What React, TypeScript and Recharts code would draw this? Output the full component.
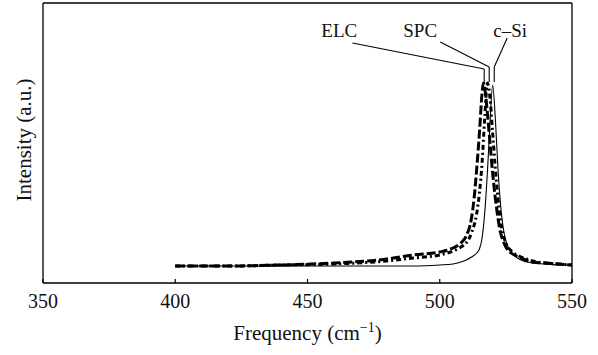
import React from "react";
import { LineChart, Line, XAxis, YAxis, ReferenceLine, ReferenceDot, Label } from "recharts";

// Raman spectra, intensity in arbitrary units
const xTicks = [350, 400, 450, 500, 550];

const cSi = [
  { f: 400, v: 17 }, { f: 420, v: 17 }, { f: 440, v: 17 }, { f: 460, v: 17 },
  { f: 480, v: 17 }, { f: 490, v: 17 }, { f: 500, v: 18 }, { f: 505, v: 19 },
  { f: 508, v: 21 }, { f: 510, v: 23 }, { f: 512, v: 26 }, { f: 514, v: 30 },
  { f: 515, v: 34 }, { f: 516, v: 45 }, { f: 517, v: 70 }, { f: 518, v: 110 },
  { f: 519, v: 160 }, { f: 520, v: 198 }, { f: 521, v: 165 }, { f: 522, v: 115 },
  { f: 523, v: 78 }, { f: 524, v: 55 }, { f: 525, v: 42 }, { f: 526, v: 35 },
  { f: 528, v: 28 }, { f: 530, v: 24 }, { f: 535, v: 20 }, { f: 540, v: 19 },
  { f: 545, v: 18 }, { f: 550, v: 18 },
];

const spc = [
  { f: 400, v: 17 }, { f: 420, v: 17 }, { f: 440, v: 18 }, { f: 460, v: 19 },
  { f: 480, v: 22 }, { f: 490, v: 25 }, { f: 500, v: 28 }, { f: 505, v: 32 },
  { f: 508, v: 36 }, { f: 510, v: 40 }, { f: 512, v: 50 }, { f: 514, v: 70 },
  { f: 515, v: 90 }, { f: 516, v: 120 }, { f: 517, v: 165 }, { f: 518, v: 200 },
  { f: 519, v: 185 }, { f: 520, v: 150 }, { f: 521, v: 115 }, { f: 522, v: 85 },
  { f: 523, v: 62 }, { f: 524, v: 48 }, { f: 525, v: 40 }, { f: 527, v: 32 },
  { f: 530, v: 27 }, { f: 535, v: 22 }, { f: 540, v: 20 }, { f: 545, v: 19 },
  { f: 550, v: 18 },
];

const elc = [
  { f: 400, v: 17 }, { f: 420, v: 17 }, { f: 440, v: 18 }, { f: 460, v: 20 },
  { f: 480, v: 24 }, { f: 490, v: 28 }, { f: 500, v: 31 }, { f: 505, v: 35 },
  { f: 508, v: 40 }, { f: 510, v: 47 }, { f: 512, v: 65 }, { f: 513, v: 85 },
  { f: 514, v: 115 }, { f: 515, v: 150 }, { f: 516, v: 190 }, { f: 516.5, v: 200 },
  { f: 517, v: 195 }, { f: 518, v: 170 }, { f: 519, v: 140 }, { f: 520, v: 110 },
  { f: 521, v: 85 }, { f: 522, v: 65 }, { f: 523, v: 50 }, { f: 524, v: 42 },
  { f: 525, v: 36 }, { f: 527, v: 30 }, { f: 530, v: 26 }, { f: 535, v: 21 },
  { f: 540, v: 20 }, { f: 545, v: 19 }, { f: 550, v: 18 },
];

// leader lines from the labels down to the peaks
const labels = [
  { name: "ELC", f: 462, v: 253, path: [[467, 240], [516.8, 214], [516.8, 201]] },
  { name: "SPC", f: 492.6, v: 253, path: [[500.2, 241], [518.7, 216], [518.7, 201]] },
  { name: "c–Si", f: 526.6, v: 253, path: [[525.5, 245], [520.6, 216], [520.6, 201]] },
];

const FONT = "'Liberation Serif', 'DejaVu Serif', serif";

const Tick = (props: any) => {
  const { x, y, payload } = props;
  return (
    <g>
      <line x1={x} x2={x} y1={y} y2={y - 4} stroke="#000" strokeWidth={1.2} />
      <text x={x} y={y + 25} textAnchor="middle" fontSize={20} fontFamily={FONT} fill="#111">
        {payload.value}
      </text>
    </g>
  );
};

const XTitle = (props: any) => {
  const vb = props.viewBox;
  return (
    <text x={vb.x + vb.width / 2} y={340} textAnchor="middle" fontSize={21} fontFamily={FONT} fill="#111">
      Frequency (cm<tspan dy={-8} fontSize={14}>−1</tspan><tspan dy={8}>)</tspan>
    </text>
  );
};

const YTitle = () => (
  <text x={31} y={140} transform="rotate(-90 31 140)" textAnchor="middle" fontSize={21} fontFamily={FONT} fill="#111">
    Intensity (a.u.)
  </text>
);

export default function App() {
  return (
    <div style={{ position: "absolute", left: 0, top: 0, background: "#fff" }}>
      <LineChart width={598} height={355} margin={{ top: 3, right: 26, left: 0, bottom: 0 }}>
        <XAxis
          dataKey="f"
          type="number"
          domain={[350, 550]}
          ticks={xTicks}
          height={72}
          tickSize={0}
          tickMargin={0}
          tickLine={false}
          tick={<Tick />}
          axisLine={{ stroke: "#000", strokeWidth: 1.3 }}
          allowDataOverflow
        >
          <Label content={<XTitle />} />
        </XAxis>
        <YAxis
          dataKey="v"
          type="number"
          domain={[0, 280]}
          width={43}
          tick={false}
          tickLine={false}
          axisLine={{ stroke: "#000", strokeWidth: 1.3 }}
          allowDataOverflow
        >
          <Label content={<YTitle />} />
        </YAxis>
        <ReferenceLine y={280} stroke="#000" strokeWidth={1.3} />
        <ReferenceLine x={550} stroke="#000" strokeWidth={1.3} />

        <Line data={cSi} dataKey="v" type="monotone" stroke="#000" strokeWidth={1.1} dot={false} isAnimationActive={false} />
        <Line data={spc} dataKey="v" type="monotone" stroke="#000" strokeWidth={3} strokeDasharray="5 3 2 3" dot={false} isAnimationActive={false} />
        <Line data={elc} dataKey="v" type="monotone" stroke="#000" strokeWidth={3} strokeDasharray="9 3" dot={false} isAnimationActive={false} />

        {labels.map((l) => (
          <ReferenceLine
            key={l.name + "a"}
            segment={[{ x: l.path[0][0], y: l.path[0][1] }, { x: l.path[1][0], y: l.path[1][1] }]}
            stroke="#000"
            strokeWidth={1.1}
          />
        ))}
        {labels.map((l) => (
          <ReferenceLine
            key={l.name + "b"}
            segment={[{ x: l.path[1][0], y: l.path[1][1] }, { x: l.path[2][0], y: l.path[2][1] }]}
            stroke="#000"
            strokeWidth={1.1}
          />
        ))}
        {labels.map((l) => (
          <ReferenceDot
            key={l.name}
            x={l.f}
            y={l.v}
            r={0}
            fill="none"
            stroke="none"
            label={{ value: l.name, position: "center", fontSize: 19, fontFamily: FONT, fill: "#111" }}
          />
        ))}
      </LineChart>
    </div>
  );
}
